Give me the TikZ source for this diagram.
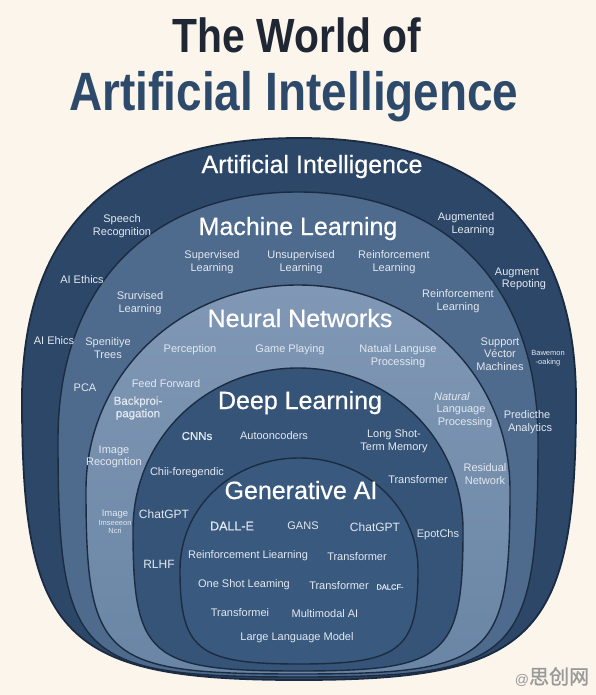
\documentclass[tikz,border=0pt]{standalone}
\usepackage{fontspec}
\setmainfont{Liberation Sans}
\newfontfamily\titlefont[FakeStretch=0.85]{Liberation Sans}
\newfontfamily\ringfont[FakeBold=0.6]{Liberation Sans}
\newfontfamily\cjkfont[FakeBold=1.2]{Noto Sans CJK SC}
\usetikzlibrary{positioning}
\definecolor{creamBg}{RGB}{251, 245, 236}
\definecolor{headDark}{RGB}{30, 39, 51}
\definecolor{headBlue}{RGB}{46, 74, 107}
\definecolor{edgeNavy}{RGB}{27, 44, 66}
\definecolor{aiRing}{RGB}{45, 71, 104}
\definecolor{mlRing}{RGB}{78, 106, 140}
\definecolor{nnTop}{RGB}{128, 152, 181}
\definecolor{nnBottom}{RGB}{106, 133, 165}
\definecolor{dlRing}{RGB}{54, 84, 120}
\definecolor{genRing}{RGB}{58, 89, 127}
\definecolor{labelWhite}{RGB}{226, 233, 241}

% cx, widest y, half width, top, bottom, top fullness, bottom fullness, style
\newcommand{\ringshape}[8]{%
  \path[#8] ({#1-#3},#2)
    .. controls ({#1-#3},{#2-#6*(#2-#4)}) and ({#1-#6*#3},#4) .. (#1,#4)
    .. controls ({#1+#6*#3},#4) and ({#1+#3},{#2-#6*(#2-#4)}) .. ({#1+#3},#2)
    .. controls ({#1+#3},{#2+#7*(#5-#2)}) and ({#1+#7*#3},#5) .. (#1,#5)
    .. controls ({#1-#7*#3},#5) and ({#1-#3},{#2+#7*(#5-#2)}) .. cycle;}

\begin{document}
\begin{tikzpicture}[
    x=1pt, y=-1pt,
    ringedge/.style={draw=edgeNavy, line width=1.4pt},
    ringtitle/.style={anchor=base, inner sep=0pt, text=white,
      font=\ringfont\fontsize{25}{28}\selectfont},
    ringitem/.style={align=center, inner sep=0pt, text=labelWhite,
      font=\fontsize{11}{12.5}\selectfont},
    bolditem/.style={ringitem, font=\ringfont\fontsize{11.5}{12.5}\selectfont},
    tinyitem/.style={ringitem, font=\fontsize{7.5}{8.5}\selectfont},
    headline/.style={anchor=base, inner sep=0pt, font=\titlefont\bfseries},
  ]
  \useasboundingbox[fill=creamBg] (0,0) rectangle (596,695);

  % Title
  \node[headline, text=headDark, font=\titlefont\bfseries\fontsize{48}{50}\selectfont]
    (worldof) at (297,53) {The World of};
  \node[headline, text=headBlue, font=\titlefont\bfseries\fontsize{54}{56}\selectfont]
    (aiheading) at (294,111) {Artificial Intelligence};

  % Nested rings
  \ringshape{299}{400}{277}{138}{680}{0.66}{0.85}{ringedge, fill=aiRing, line width=1.8pt}
  \ringshape{298}{440}{240}{192}{677}{0.62}{0.92}{ringedge, fill=mlRing}
  \ringshape{298}{490}{212}{285}{674}{0.56}{0.92}{ringedge, top color=nnTop, bottom color=nnBottom}
  \ringshape{298}{530}{165}{368}{671}{0.56}{0.90}{ringedge, fill=dlRing}
  \ringshape{299}{570}{119}{458}{664}{0.56}{0.85}{ringedge, fill=genRing}

  % Ring titles
  \node[ringtitle] (aititle) at (312,173) {Artificial Intelligence};
  \node[ringtitle] (mltitle) at (298,235) {Machine Learning};
  \node[ringtitle] (nntitle) at (300,327) {Neural Networks};
  \node[ringtitle] (dltitle) at (300,409) {Deep Learning};
  \node[ringtitle] (gentitle) at (301,499) {Generative AI};

  % Artificial Intelligence ring
  \node[ringitem] (speech) at (122,226) {Speech\\Recognition};
  \node[ringitem] (ethics) at (82,280) {AI Ethics};
  \node[ringitem] (ehics) at (54,341) {AI Ehics};
  \node[ringitem] (augmented) at (466,224) {Augmented\\\hspace*{14pt}Learning};
  \node[ringitem] (augment) at (517,279) {Augment\\\hspace*{14pt}Repoting};
  \node[tinyitem] (bawemon) at (548,358) {Bawemon\\-oaking};
  \node[ringitem] (predict) at (527,422) {Predicthe\\\hspace*{6pt}Analytics};

  % Machine Learning ring
  \node[ringitem] (supervised) at (212,262) {Supervised\\Learning};
  \node[ringitem] (unsupervised) at (301,262) {Unsupervised\\Learning};
  \node[ringitem] (reinftop) at (394,262) {Reinforcement\\Learning};
  \node[ringitem] (srurvised) at (140,303) {Srurvised\\Learning};
  \node[ringitem] (reinfside) at (458,301) {Reinforcement\\Learning};
  \node[ringitem] (spenitiye) at (108,348) {Spenitiye\\Trees};
  \node[ringitem] (svm) at (500,354) {Support\\Véctor\\Machines};
  \node[ringitem] (pca) at (85,388) {PCA};

  % Neural Networks ring
  \node[ringitem] (perception) at (190,350) {Perception};
  \node[ringitem] (gameplay) at (290,350) {Game Playing};
  \node[ringitem] (natual) at (398,356) {Natual Languse\\Processing};
  \node[ringitem] (feedfwd) at (166,384) {Feed Forward};
  \node[bolditem] (backprop) at (138,408) {Backproi-\\pagation};
  \node[ringitem] (natural) at (461,410) {\hspace*{-18pt}\textit{Natural}\\Language\\\hspace*{8pt}Processing};
  \node[ringitem] (imagerec) at (114,457) {Image\\Recogntion};
  \node[ringitem] (residual) at (485,474) {Residual\\Network};
  \node[tinyitem] (imageims) at (115,522) {{\fontsize{9.5}{10}\selectfont Image}\\Imseeeon\\Ncri};

  % Deep Learning ring
  \node[bolditem] (cnns) at (197,436) {CNNs};
  \node[ringitem] (autoenc) at (274,436) {Autooncoders};
  \node[ringitem] (lstm) at (394,441) {Long Shot-\\Term Memory};
  \node[ringitem] (chii) at (187,473) {Chii-foregendic};
  \node[ringitem] (dltransf) at (418,480) {Transformer};
  \node[ringitem, font=\fontsize{12}{13}\selectfont] (dlchat) at (164,514) {ChatGPT};
  \node[ringitem] (epot) at (438,535) {EpotChs};
  \node[ringitem, font=\fontsize{12}{13}\selectfont] (rlhf) at (159,564) {RLHF};

  % Generative AI core
  \node[bolditem, font=\ringfont\fontsize{12.5}{13}\selectfont] (dalle) at (232,526) {DALL-E};
  \node[ringitem] (gans) at (303,526) {GANS};
  \node[ringitem, font=\fontsize{12}{13}\selectfont] (genchat) at (375,527) {ChatGPT};
  \node[ringitem] (reinfgen) at (248,556) {Reinforcement Liearning};
  \node[ringitem] (gentransa) at (357,557) {Transformer};
  \node[ringitem] (oneshot) at (244,585) {One Shot Leaming};
  \node[ringitem] (gentransb) at (339,586) {Transformer};
  \node[tinyitem, font=\ringfont\fontsize{7.5}{8}\selectfont] (dalcf) at (390,587) {DALCF-};
  \node[ringitem] (transfei) at (240,613) {Transformei};
  \node[ringitem] (multimodal) at (325,614) {Multimodal AI};
  \node[ringitem] (llm) at (297,638) {Large Language Model};

  % Watermark
  \node[inner sep=0pt, text=black!40, anchor=base] (mark) at (552,684)
    {{\fontsize{14}{14}\selectfont @}{\cjkfont\fontsize{20}{20}\selectfont 思创网}};
\end{tikzpicture}
\end{document}
